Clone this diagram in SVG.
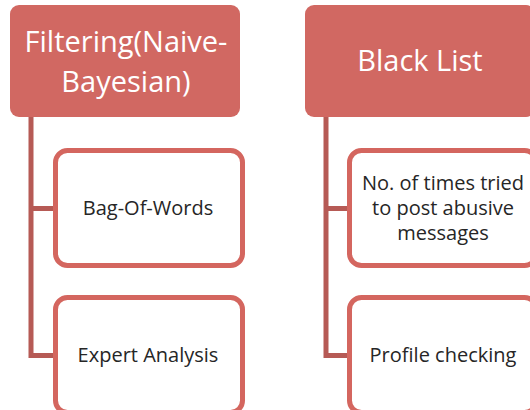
<svg xmlns="http://www.w3.org/2000/svg" width="530" height="410" viewBox="0 0 530 410">
<style>
.hdr{fill:#D16862;}
.hdrtxt{fill:#ffffff;font-family:"Open Sans","Liberation Sans",sans-serif;font-size:29px;text-anchor:middle;}
.child{fill:#ffffff;stroke:#D4665F;stroke-width:5;}
.ctxt{fill:#262626;font-family:"Open Sans","Liberation Sans",sans-serif;font-size:20px;text-anchor:middle;}
.conn{fill:none;stroke:#B65A55;stroke-width:5;}
</style>
<rect width="530" height="410" fill="#ffffff"/>
<g id="connectors">
<path class="conn" d="M31,117 V355.5 H56"/>
<path class="conn" d="M31,208.5 H56"/>
<path class="conn" d="M326,117 V355.5 H350"/>
<path class="conn" d="M326,208.5 H350"/>
</g>
<g id="filtering">
<rect class="hdr" x="10" y="5" width="230" height="112" rx="9"/>
<text class="hdrtxt" x="126" y="52">Filtering(Naive-</text>
<text class="hdrtxt" x="126" y="92">Bayesian)</text>
</g>
<g id="blacklist">
<rect class="hdr" x="305" y="5" width="230" height="112" rx="9"/>
<text class="hdrtxt" x="420" y="71">Black List</text>
</g>
<g id="bagofwords">
<rect class="child" x="55.5" y="150.5" width="187" height="115" rx="12"/>
<text class="ctxt" x="148" y="215">Bag-Of-Words</text>
</g>
<g id="expert">
<rect class="child" x="55.5" y="297.5" width="187" height="115" rx="12"/>
<text class="ctxt" x="148" y="362">Expert Analysis</text>
</g>
<g id="notimes">
<rect class="child" x="349.5" y="150.5" width="187" height="115" rx="12"/>
<text class="ctxt" x="443" y="190">No. of times tried</text>
<text class="ctxt" x="443" y="215">to post abusive</text>
<text class="ctxt" x="443" y="240">messages</text>
</g>
<g id="profile">
<rect class="child" x="349.5" y="297.5" width="187" height="115" rx="12"/>
<text class="ctxt" x="443" y="362">Profile checking</text>
</g>
</svg>
